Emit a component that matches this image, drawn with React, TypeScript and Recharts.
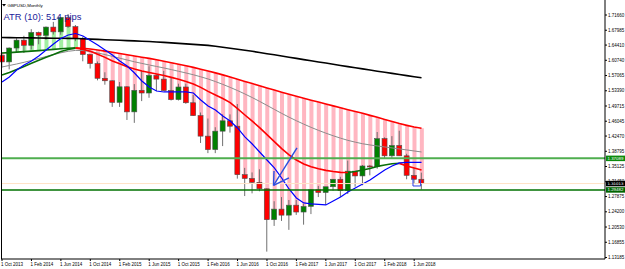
import React from 'react';
import { ComposedChart, Bar, Line, XAxis, YAxis, ReferenceLine } from 'recharts';

// GBPUSD monthly, Oct 2013 .. Jul 2018
const open = [1.6190, 1.6035, 1.6370, 1.6560, 1.6435, 1.6745, 1.6675, 1.6875, 1.6760, 1.7105, 1.6885, 1.6595, 1.6215, 1.5995, 1.5640, 1.5580, 1.5060, 1.5435, 1.4830, 1.5350, 1.5285, 1.5710, 1.5620, 1.5345, 1.5125, 1.5430, 1.5050, 1.4740, 1.4245, 1.3920, 1.4365, 1.4615, 1.4485, 1.3315, 1.3225, 1.3130, 1.2975, 1.2230, 1.2485, 1.2340, 1.2580, 1.2415, 1.2550, 1.2950, 1.2885, 1.3025, 1.3205, 1.2930, 1.3400, 1.3285, 1.3525, 1.3510, 1.4185, 1.3770, 1.4020, 1.3770, 1.3300, 1.3205];
const high = [1.6260, 1.6385, 1.6605, 1.6665, 1.6825, 1.6765, 1.6890, 1.7000, 1.7110, 1.7190, 1.6925, 1.6645, 1.6225, 1.6045, 1.5785, 1.5590, 1.5550, 1.5450, 1.5500, 1.5815, 1.5930, 1.5735, 1.5820, 1.5660, 1.5510, 1.5510, 1.5240, 1.4815, 1.4670, 1.4460, 1.4770, 1.4770, 1.5020, 1.3480, 1.3370, 1.3445, 1.2985, 1.2675, 1.2775, 1.2705, 1.2705, 1.2615, 1.2965, 1.3045, 1.3010, 1.3210, 1.3265, 1.3655, 1.3400, 1.3550, 1.3550, 1.4345, 1.4215, 1.4245, 1.4375, 1.3820, 1.3475, 1.3365];
const low = [1.5895, 1.5855, 1.6250, 1.6250, 1.6335, 1.6460, 1.6565, 1.6695, 1.6690, 1.6855, 1.6535, 1.6050, 1.5875, 1.5590, 1.5485, 1.4950, 1.4950, 1.4635, 1.4565, 1.5090, 1.5170, 1.5330, 1.5330, 1.5105, 1.5105, 1.5025, 1.4730, 1.4080, 1.3835, 1.3835, 1.4005, 1.4330, 1.3220, 1.2800, 1.2865, 1.2915, 1.1460, 1.2080, 1.2200, 1.1985, 1.2345, 1.2110, 1.2365, 1.2775, 1.2590, 1.2930, 1.2775, 1.2850, 1.3025, 1.3060, 1.3300, 1.3460, 1.3710, 1.3710, 1.3765, 1.3205, 1.3100, 1.2957];
const close = [1.6035, 1.6370, 1.6560, 1.6435, 1.6745, 1.6675, 1.6875, 1.6760, 1.7105, 1.6885, 1.6595, 1.6215, 1.5995, 1.5640, 1.5580, 1.5060, 1.5435, 1.4830, 1.5350, 1.5285, 1.5710, 1.5620, 1.5345, 1.5125, 1.5430, 1.5050, 1.4740, 1.4245, 1.3920, 1.4365, 1.4615, 1.4485, 1.3315, 1.3225, 1.3130, 1.2975, 1.2230, 1.2485, 1.2340, 1.2580, 1.2415, 1.2550, 1.2950, 1.2885, 1.3025, 1.3205, 1.2930, 1.3400, 1.3285, 1.3525, 1.3510, 1.4185, 1.3770, 1.4020, 1.3770, 1.3300, 1.3205, 1.3101];

// indicator lines
const blackMa = [1.6624, 1.6621, 1.6619, 1.6617, 1.6614, 1.6612, 1.6609, 1.6607, 1.6605, 1.6602, 1.6600, 1.6592, 1.6585, 1.6578, 1.6571, 1.6564, 1.6556, 1.6549, 1.6542, 1.6535, 1.6527, 1.6515, 1.6506, 1.6494, 1.6482, 1.6470, 1.6458, 1.6445, 1.6433, 1.6414, 1.6390, 1.6366, 1.6339, 1.6315, 1.6291, 1.6262, 1.6233, 1.6207, 1.6178, 1.6149, 1.6120, 1.6091, 1.6062, 1.6033, 1.6007, 1.5978, 1.5949, 1.5922, 1.5893, 1.5867, 1.5840, 1.5811, 1.5785, 1.5758, 1.5732, 1.5705, 1.5679, 1.5652];
const greyMa = [1.5913, 1.5949, 1.5985, 1.6026, 1.6069, 1.6118, 1.6166, 1.6212, 1.6255, 1.6291, 1.6313, 1.6308, 1.6284, 1.6250, 1.6212, 1.6168, 1.6125, 1.6081, 1.6038, 1.5999, 1.5961, 1.5925, 1.5889, 1.5850, 1.5809, 1.5768, 1.5725, 1.5676, 1.5623, 1.5561, 1.5493, 1.5421, 1.5344, 1.5262, 1.5175, 1.5083, 1.4987, 1.4890, 1.4794, 1.4702, 1.4616, 1.4534, 1.4456, 1.4384, 1.4317, 1.4254, 1.4196, 1.4143, 1.4100, 1.4061, 1.4032, 1.4008, 1.3984, 1.3960, 1.3936, 1.3912, 1.3887, 1.3863];
const slowMa = [1.6250, 1.6260, 1.6272, 1.6284, 1.6296, 1.6308, 1.6323, 1.6337, 1.6351, 1.6364, 1.6373, 1.6366, 1.6347, 1.6323, 1.6296, 1.6267, 1.6236, 1.6207, 1.6178, 1.6149, 1.6120, 1.6086, 1.6053, 1.6016, 1.5980, 1.5942, 1.5903, 1.5860, 1.5816, 1.5770, 1.5722, 1.5672, 1.5618, 1.5565, 1.5512, 1.5459, 1.5406, 1.5356, 1.5305, 1.5257, 1.5209, 1.5160, 1.5112, 1.5066, 1.5021, 1.4975, 1.4929, 1.4883, 1.4840, 1.4796, 1.4746, 1.4698, 1.4647, 1.4596, 1.4548, 1.4505, 1.4466, 1.4435];
const fastMa = [1.5720, 1.5780, 1.5852, 1.5925, 1.6002, 1.6077, 1.6149, 1.6216, 1.6284, 1.6335, 1.6364, 1.6339, 1.6291, 1.6221, 1.6144, 1.6057, 1.5990, 1.5918, 1.5864, 1.5816, 1.5778, 1.5744, 1.5705, 1.5662, 1.5618, 1.5565, 1.5503, 1.5421, 1.5324, 1.5238, 1.5151, 1.5054, 1.4910, 1.4755, 1.4606, 1.4452, 1.4283, 1.4114, 1.3945, 1.3791, 1.3670, 1.3574, 1.3507, 1.3458, 1.3420, 1.3391, 1.3371, 1.3367, 1.3391, 1.3429, 1.3463, 1.3516, 1.3550, 1.3579, 1.3588, 1.3526, 1.3478, 1.3429];
const blueLine = [1.5551, 1.5672, 1.5840, 1.5961, 1.6057, 1.6178, 1.6323, 1.6467, 1.6600, 1.6684, 1.6720, 1.6660, 1.6552, 1.6443, 1.6323, 1.6202, 1.6057, 1.5937, 1.5768, 1.5575, 1.5430, 1.5334, 1.5310, 1.5310, 1.5310, 1.5310, 1.5286, 1.5117, 1.4972, 1.4876, 1.4731, 1.4611, 1.4442, 1.4225, 1.4056, 1.3863, 1.3670, 1.3478, 1.3236, 1.2971, 1.2754, 1.2634, 1.2610, 1.2598, 1.2585, 1.2682, 1.2778, 1.2899, 1.2995, 1.3092, 1.3188, 1.3309, 1.3429, 1.3526, 1.3598, 1.3610, 1.3610, 1.3610];

const dateTicks = [0, 4, 8, 12, 16, 20, 24, 28, 32, 36, 40, 44, 48, 52, 56];
const dateLabels = ['1 Oct 2013', '1 Feb 2014', '1 Jun 2014', '1 Oct 2014', '1 Feb 2015', '1 Jun 2015', '1 Oct 2015', '1 Feb 2016', '1 Jun 2016', '1 Oct 2016', '1 Feb 2017', '1 Jun 2017', '1 Oct 2017', '1 Feb 2018', '1 Jun 2018'];
const priceLabels = ['1.71660', '1.67985', '1.64410', '1.60740', '1.57065', '1.53390', '1.49715', '1.46045', '1.42470', '1.38795', '1.35125', '1.31450', '1.27875', '1.24200', '1.20530', '1.16855', '1.13185'];
const priceTicks = priceLabels.map(Number);

const levelHigh = 1.37089;
const levelLow = 1.29482;
const bid = 1.31013;

// drawn objects: [barIndex, price]
const arrowShaft = [[40.08, 1.3960], [36.89, 1.3056]];
const arrowWing1 = [[36.89, 1.3056], [38.99, 1.3236]];
const arrowWing2 = [[36.89, 1.3056], [36.96, 1.3405]];
const boxPath = [[55.84, 1.3236], [55.84, 1.3043], [56.88, 1.3043], [56.88, 1.3188]];

const SLOTS = 82;
const FONT = '"Liberation Sans", Arial, sans-serif';

function splitBySlope(s: number[]) {
  const up: (number | null)[] = s.map(() => null);
  const dn: (number | null)[] = s.map(() => null);
  for (let i = 1; i < s.length; i++) {
    const t = s[i] >= s[i - 1] ? up : dn;
    t[i - 1] = s[i - 1];
    t[i] = s[i];
  }
  return [up, dn];
}

const [slowUp, slowDn] = splitBySlope(slowMa);
const [fastUp, fastDn] = splitBySlope(fastMa);

const rows = Array.from({ length: SLOTS }, (_, i) => {
  if (i >= close.length) return { idx: i };
  return {
    idx: i,
    open: open[i],
    high: high[i],
    low: low[i],
    close: close[i],
    range: [low[i], high[i]],
    hatch: [Math.min(close[i], slowMa[i]), Math.max(close[i], slowMa[i])],
    hatchUp: close[i] > slowMa[i],
    black: blackMa[i],
    grey: greyMa[i],
    slowUp: slowUp[i],
    slowDn: slowDn[i],
    fastUp: fastUp[i],
    fastDn: fastDn[i],
    blue: blueLine[i],
  };
});

const Candle = (props: any) => {
  const { x, y, width, height, payload } = props;
  if (!payload || payload.open == null) return null;
  const { open: o, close: c, high: h, low: l } = payload;
  const top = Math.min(y, y + height);
  const span = Math.abs(height);
  const py = (v: number) => top + ((h - v) / (h - l)) * span;
  const cx = x + width / 2;
  const bt = py(Math.max(o, c));
  const bb = py(Math.min(o, c));
  return (
    <g>
      <line x1={cx} x2={cx} y1={top} y2={top + span} stroke="#707070" strokeWidth={1} />
      <rect x={cx - 2.5} y={bt} width={5} height={Math.max(bb - bt, 1)} fill={c >= o ? '#008000' : '#ff0000'} stroke="#505050" strokeWidth={0.6} />
    </g>
  );
};

const Hatch = (props: any) => {
  const { x, y, width, height, payload } = props;
  if (!payload || payload.hatch == null) return null;
  const cx = x + width / 2;
  return <rect x={cx - 2} y={Math.min(y, y + height)} width={4} height={Math.abs(height)} fill={payload.hatchUp ? '#a2eea2' : '#ffb6c1'} />;
};

const DateTick = (props: any) => {
  const { x, y, index } = props;
  return (
    <text x={x - 1} y={y + 3.5} fontSize={4.5} fontFamily={FONT} fill="#000" textAnchor="start">
      {dateLabels[index]}
    </text>
  );
};

const PriceTick = (props: any) => {
  const { x, y, index } = props;
  return (
    <text x={x} y={y + 1.6} fontSize={4.5} fontFamily={FONT} fill="#000" textAnchor="start">
      {priceLabels[index]}
    </text>
  );
};

const Tag = (props: any) => {
  const { viewBox, text, bg } = props;
  if (!viewBox) return null;
  const lx = viewBox.x + viewBox.width + 1;
  const y = viewBox.y;
  return (
    <g>
      <rect x={lx} y={y - 2.75} width={19} height={5.5} fill={bg} />
      <text x={lx + 1.5} y={y + 1.5} fontSize={4.4} fontFamily={FONT} fill="#fff">{text}</text>
    </g>
  );
};

const pad = { left: -2.68, right: 3.16 };
const DRAW = '#2a4ee0';

export default function App() {
  const pts = (p: number[][]) => p.map(([x, y]) => ({ x, y }));
  const pairs = (p: number[][]) => p.slice(1).map((q, i) => pts([p[i], q]));
  const drawn = [pts(arrowShaft), pts(arrowWing1), pts(arrowWing2)];
  return (
    <div style={{ position: 'fixed', left: 0, top: 0, width: 625, height: 269, background: '#fff' }}>
      <ComposedChart width={625} height={269} data={rows} margin={{ top: 0, right: 0, bottom: 0, left: 1 }} barCategoryGap={0} barGap={0}>
        <XAxis dataKey="idx" type="category" height={10} padding={pad} ticks={dateTicks} interval={0}
          tick={<DateTick />} tickSize={2} tickMargin={1} axisLine={{ stroke: '#000' }} tickLine={{ stroke: '#000' }} />
        <XAxis xAxisId="h" dataKey="idx" type="category" hide padding={pad} />
        <XAxis xAxisId="n" dataKey="idx" type="number" hide padding={pad} domain={[-0.5, SLOTS - 0.5]} allowDataOverflow />
        <YAxis orientation="right" width={20} type="number" domain={[1.1282, 1.7528]} allowDataOverflow
          ticks={priceTicks} interval={0} tick={<PriceTick />} tickSize={2} tickMargin={1}
          axisLine={{ stroke: '#000' }} tickLine={{ stroke: '#000' }} />

        <Bar xAxisId="h" dataKey="hatch" barSize={4} shape={<Hatch />} isAnimationActive={false} />

        <Line dataKey="black" stroke="#000" strokeWidth={1.6} dot={false} isAnimationActive={false} />
        <Line dataKey="grey" stroke="#8c8c8c" strokeWidth={1} dot={false} isAnimationActive={false} />
        <Line dataKey="fastUp" stroke="#0a6e0a" strokeWidth={1.6} dot={false} isAnimationActive={false} />
        <Line dataKey="fastDn" stroke="#ff0000" strokeWidth={1.6} dot={false} isAnimationActive={false} />
        <Line dataKey="slowUp" stroke="#0a6e0a" strokeWidth={1.6} dot={false} isAnimationActive={false} />
        <Line dataKey="slowDn" stroke="#ff0000" strokeWidth={1.6} dot={false} isAnimationActive={false} />
        <Line dataKey="blue" stroke="#0000ff" strokeWidth={1.2} dot={false} isAnimationActive={false} />

        <ReferenceLine y={bid} stroke="#ffe2c6" strokeWidth={1} label={<Tag text={bid.toFixed(5)} bg="#000" />} />
        <ReferenceLine y={levelHigh} stroke="#4fae4f" strokeWidth={2} label={<Tag text={levelHigh.toFixed(5)} bg="#0b8a0b" />} />
        <ReferenceLine y={levelLow} stroke="#007000" strokeWidth={1.5} label={<Tag text={levelLow.toFixed(5)} bg="#006400" />} />

        <Bar dataKey="range" barSize={5} shape={<Candle />} isAnimationActive={false} />

        {drawn.map((s, k) => (
          <ReferenceLine key={'a' + k} xAxisId="n" segment={s} stroke={DRAW} strokeWidth={1.4} ifOverflow="visible" />
        ))}
        {pairs(boxPath).map((s, k) => (
          <ReferenceLine key={'b' + k} xAxisId="n" segment={s} stroke="#2b3fe8" strokeWidth={1} ifOverflow="visible" />
        ))}
      </ComposedChart>
      <svg width={625} height={269} style={{ position: 'absolute', left: 0, top: 0, pointerEvents: 'none' }}>
        <line x1={1.5} x2={1.5} y1={0} y2={259} stroke="#000" strokeWidth={1} />
        <path d="M2,4 L6,4 L4,6.5 Z" fill="#000" />
        <text x={7.5} y={6.6} fontSize={4.4} fontFamily={FONT} fill="#000">GBPUSD,Monthly</text>
        <text x={3.5} y={19.5} fontSize={9.4} fontFamily={FONT} fill="#22229a">ATR (10): 514 pips</text>
      </svg>
    </div>
  );
}
